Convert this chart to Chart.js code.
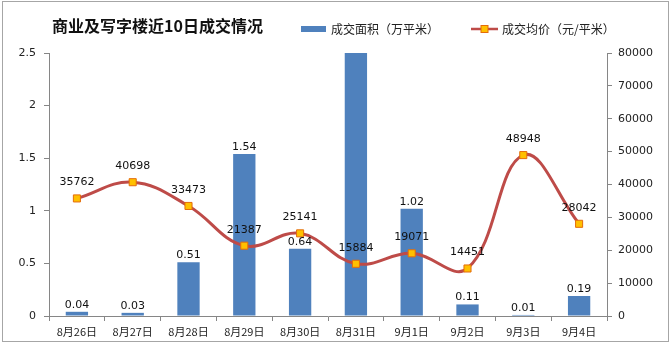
<!DOCTYPE html>
<html>
<head>
<meta charset="utf-8">
<script src="https://cdn.jsdelivr.net/npm/chart.js@4.4.1/dist/chart.umd.min.js"></script>
<style>
  html, body { margin: 0; padding: 0; background: #fff; }
  #wrap { width: 671px; height: 347px; }
</style>
</head>
<body>
<div id="wrap"><canvas id="deptChart" width="671" height="347"></canvas></div>
<script>
// data
var categories = ['8月26日', '8月27日', '8月28日', '8月29日', '8月30日', '8月31日', '9月1日', '9月2日', '9月3日', '9月4日'];
var areaValues = [0.04, 0.03, 0.51, 1.54, 0.64, 2.9, 1.02, 0.11, 0.01, 0.19]; // 8/31 runs off the top, value unknown
var priceValues = [35762, 40698, 33473, 21387, 25141, 15884, 19071, 14451, 48948, 28042];
var areaTicks = [0, 2.5, 0.5];     // min, max, step
var priceTicks = [0, 80000, 10000];

var titleText = '商业及写字楼近10日成交情况';
var areaLabel = '成交面积（万平米）';
var priceLabel = '成交均价（元/平米）';

var barColor = '#4F81BD';
var lineColor = '#BE4B48';
var markerFill = '#FFC000';
var markerEdge = '#E46C0A';
var axisColor = '#868686';
var numFont = '"DejaVu Sans", sans-serif';
var cjkFont = '"Noto Sans CJK SC", sans-serif';

// frame, title and legend
var decorPlugin = {
    id: 'decor',
    beforeDraw: function (chart) {
        var ctx = chart.ctx;
        ctx.save();
        ctx.fillStyle = '#fff';
        ctx.fillRect(0, 0, chart.width, chart.height);
        ctx.strokeStyle = '#A6A6A6';
        ctx.lineWidth = 1;
        ctx.strokeRect(2.5, 1.5, 666, 340);
        ctx.restore();
    },
    afterDraw: function (chart) {
        var ctx = chart.ctx;
        ctx.save();
        ctx.fillStyle = '#111';
        ctx.textBaseline = 'middle';
        ctx.font = 'bold 16px ' + cjkFont;
        ctx.fillText(titleText, 52, 26);

        // legend
        ctx.font = '12px ' + cjkFont;
        ctx.fillStyle = barColor;
        ctx.fillRect(301, 26, 25, 6);
        ctx.fillStyle = '#222';
        ctx.fillText(areaLabel, 331, 29);

        ctx.strokeStyle = lineColor;
        ctx.lineWidth = 2.5;
        ctx.beginPath();
        ctx.moveTo(471, 29);
        ctx.lineTo(498, 29);
        ctx.stroke();
        ctx.fillStyle = markerFill;
        ctx.strokeStyle = markerEdge;
        ctx.lineWidth = 1;
        ctx.fillRect(481, 25.5, 7, 7);
        ctx.strokeRect(481, 25.5, 7, 7);
        ctx.fillStyle = '#222';
        ctx.fillText(priceLabel, 502, 29);
        ctx.restore();
    }
};

// value labels above bars and points
var valueLabels = {
    id: 'valueLabels',
    afterDatasetsDraw: function (chart) {
        var ctx = chart.ctx;
        ctx.save();
        ctx.font = '11px ' + numFont;
        ctx.fillStyle = '#111';
        ctx.textAlign = 'center';
        ctx.textBaseline = 'middle';
        chart.data.datasets.forEach(function (ds, i) {
            var meta = chart.getDatasetMeta(i);
            var yMax = chart.scales[ds.yAxisID].max;
            meta.data.forEach(function (el, j) {
                var v = ds.data[j];
                if (v > yMax) return;
                if (ds.type === 'bar') {
                    ctx.fillText(String(v), el.x, el.y - 7);
                } else {
                    ctx.fillText(String(v), el.x, el.y - 16);
                }
            });
        });
        ctx.restore();
    }
};

var ctx = document.getElementById('deptChart').getContext('2d');
window.myChart = new Chart(ctx, {
    data: {
        labels: categories,
        datasets: [{
            type: 'line',
            label: priceLabel,
            data: priceValues,
            yAxisID: 'y1',
            order: 0,
            borderColor: lineColor,
            borderWidth: 3,
            tension: 0.4,
            pointStyle: 'rect',
            pointRadius: 5,
            pointBackgroundColor: markerFill,
            pointBorderColor: markerEdge,
            pointBorderWidth: 1
        }, {
            type: 'bar',
            label: areaLabel,
            data: areaValues,
            yAxisID: 'y',
            order: 1,
            backgroundColor: barColor,
            barPercentage: 0.4,
            categoryPercentage: 1
        }]
    },
    options: {
        responsive: false,
        animation: false,
        layout: { padding: { top: 53, left: 0, right: 0, bottom: 0 } },
        plugins: {
            legend: { display: false },
            title: { display: false },
            tooltip: { enabled: false }
        },
        scales: {
            x: {
                grid: { display: true, drawOnChartArea: false, drawTicks: true, tickLength: 5, color: axisColor, offset: true },
                border: { display: true, color: axisColor },
                ticks: { font: { family: cjkFont, size: 11 }, color: '#222', padding: 4, maxRotation: 0, autoSkip: false },
                afterFit: function (s) { s.height = 31; }
            },
            y: {
                position: 'left',
                min: areaTicks[0], max: areaTicks[1],
                ticks: { stepSize: areaTicks[2], font: { family: numFont, size: 11 }, color: '#222', padding: 8,
                    callback: function (v) { return String(v); } },
                grid: { display: true, drawOnChartArea: false, drawTicks: true, tickLength: 5, color: axisColor },
                border: { display: true, color: axisColor },
                afterFit: function (s) { s.width = 49; }
            },
            y1: {
                position: 'right',
                min: priceTicks[0], max: priceTicks[1],
                ticks: { stepSize: priceTicks[2], font: { family: numFont, size: 11 }, color: '#222', padding: 6,
                    callback: function (v) { return String(v); } },
                grid: { display: true, drawOnChartArea: false, drawTicks: true, tickLength: 5, color: axisColor },
                border: { display: true, color: axisColor },
                afterFit: function (s) { s.width = 64; }
            }
        }
    },
    plugins: [decorPlugin, valueLabels]
});
</script>
</body>
</html>
